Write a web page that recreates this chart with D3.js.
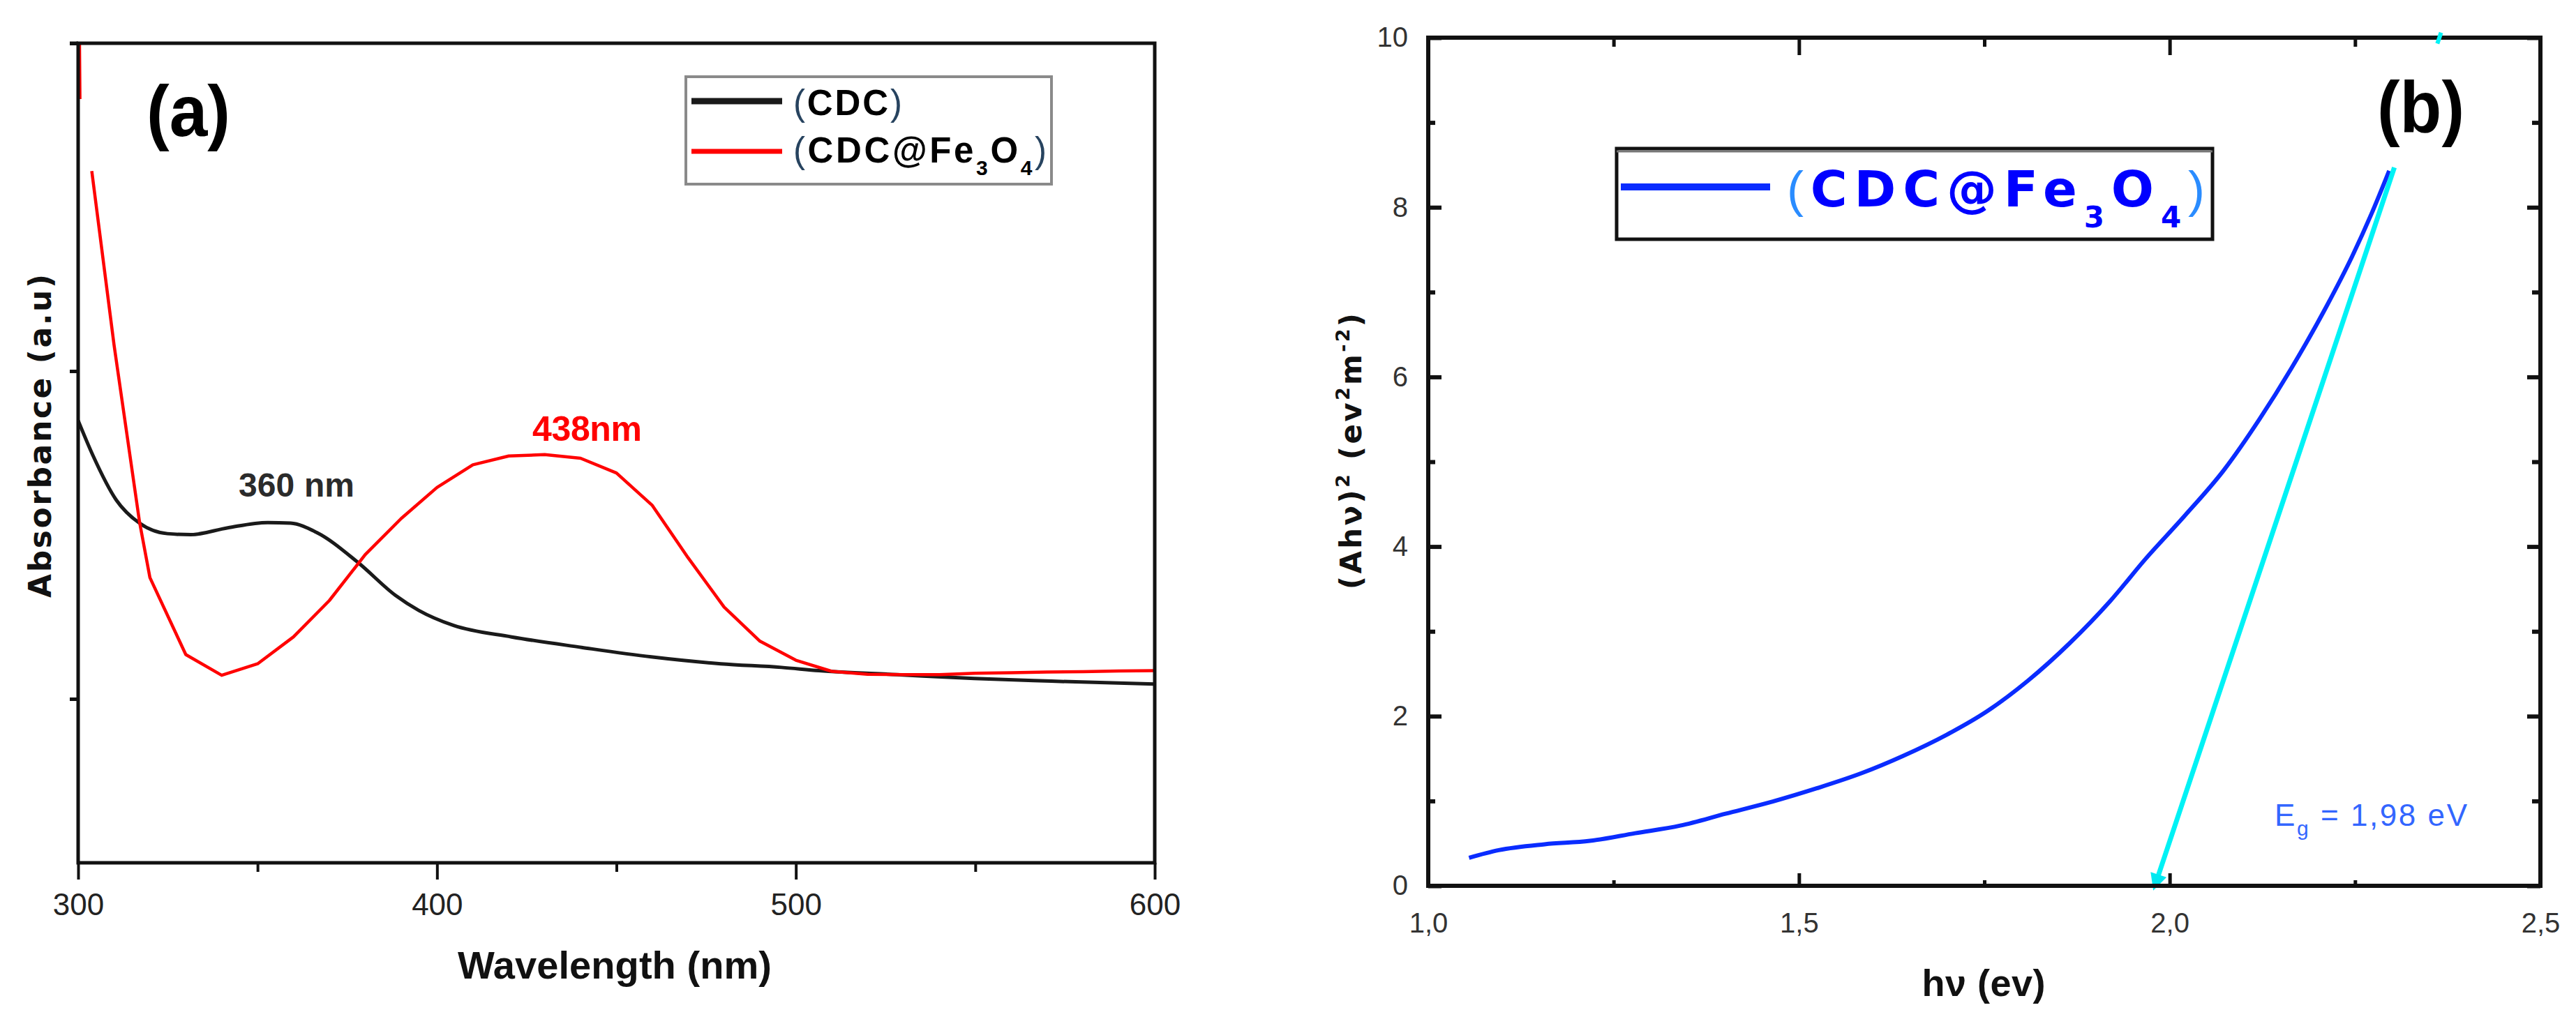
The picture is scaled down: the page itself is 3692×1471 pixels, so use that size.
<!DOCTYPE html>
<html><head><meta charset="utf-8">
<script src="https://cdn.jsdelivr.net/npm/d3@7"></script>
<style>body{margin:0;background:#fff}</style>
</head><body>
<svg id="c" width="3692" height="1471" xmlns="http://www.w3.org/2000/svg"></svg>
<script>
// ---------------- DATA ----------------
// Panel (a) UV-Vis absorbance
const cdcWavelength = [300, 304.1, 310.6, 317.1, 324.9, 331.4, 341.7, 352.8, 359.2, 366.4, 378.0, 388.4, 394.9, 404.6, 420.8, 440.3, 459.7, 479.1, 496.0, 506.5, 528.1, 549.7, 571.2, 600];
const cdcAbs        = [1.349, 1.243, 1.107, 1.036, 1.004, 1.001, 1.022, 1.038, 1.036, 1.008, 0.916, 0.816, 0.770, 0.724, 0.689, 0.657, 0.628, 0.607, 0.596, 0.586, 0.574, 0.562, 0.554, 0.545];
const feWavelength  = [300.3, 300.5, null, 303.8, 310, 317.1, 320, 330, 340, 350, 360, 370, 380, 390, 400, 410, 420, 430, 440, 450, 460, 470, 480, 490, 500, 510, 520, 530, 540, 550, 560, 570, 580, 590, 600];
const feAbs         = [2.60, 2.33, null, 2.11, 1.58, 1.04, 0.87, 0.635, 0.572, 0.607, 0.689, 0.80, 0.94, 1.05, 1.145, 1.214, 1.241, 1.245, 1.234, 1.189, 1.090, 0.93, 0.78, 0.676, 0.618, 0.584, 0.575, 0.574, 0.574, 0.578, 0.580, 0.582, 0.583, 0.585, 0.586];
const xTicksA       = [300, 400, 500, 600];
const xMinorTicksA  = [350, 450, 550];
const yTicksA       = [0.5, 1.5, 2.5];

// Panel (b) Tauc plot
const taucEnergy = [1.055, 1.095, 1.157, 1.218, 1.279, 1.340, 1.401, 1.463, 1.524, 1.585, 1.640, 1.699, 1.754, 1.809, 1.865, 1.920, 1.968, 2.020, 2.073, 2.121, 2.164, 2.212, 2.246, 2.272, 2.296];
const taucValue  = [0.33, 0.42, 0.49, 0.53, 0.62, 0.71, 0.85, 0.99, 1.15, 1.33, 1.53, 1.78, 2.06, 2.42, 2.86, 3.36, 3.86, 4.36, 4.90, 5.50, 6.10, 6.84, 7.42, 7.92, 8.43];
const tangentEnergy = [2.303, 1.98];
const tangentValue  = [8.47, 0];
const tangentTopEnergy = [2.361, 2.366];
const tangentTopValue  = [9.93, 10.06];
const xTicksB       = [1.0, 1.5, 2.0, 2.5];
const xTickLabelsB  = ["1,0", "1,5", "2,0", "2,5"];
const xMinorTicksB  = [1.25, 1.75, 2.25];
const yTicksB       = [0, 2, 4, 6, 8, 10];
const yMinorTicksB  = [1, 3, 5, 7, 9];
const bandGap = "1,98";

// ---------------- DRAW ----------------
const svg = d3.select("#c");
svg.append("rect").attr("width", 3692).attr("height", 1471).attr("fill", "#fff");
const SANS = "'Liberation Sans', Arial, sans-serif";
const WIDE = "'DejaVu Sans', Verdana, sans-serif";

function styleAxis(g, sw, fs, col) {
  g.select(".domain").remove();
  g.attr("font-family", SANS).attr("font-size", fs);
  g.selectAll(".tick line").attr("stroke", "#111").attr("stroke-width", sw);
  g.selectAll(".tick text").attr("fill", col || "#222");
}

// ===== Panel (a) =====
const xA = d3.scaleLinear().domain([300, 600]).range([112, 1655]);
const yA = d3.scaleLinear().domain([0, 2.5]).range([1237, 62]);
const gA = svg.append("g");
gA.append("clipPath").attr("id", "clipA").append("rect")
  .attr("x", xA(300)).attr("y", yA(2.5)).attr("width", xA(600) - xA(300)).attr("height", yA(0) - yA(2.5));

const cdcData = cdcWavelength.map((x, i) => ({x, y: cdcAbs[i]}));
const feData = feWavelength.map((x, i) => ({x, y: feAbs[i]}));

gA.append("path").datum(cdcData).attr("clip-path", "url(#clipA)")
  .attr("d", d3.line().x(d => xA(d.x)).y(d => yA(d.y)).curve(d3.curveMonotoneX))
  .attr("fill", "none").attr("stroke", "#1a1a1a").attr("stroke-width", 5);
gA.append("path").datum(feData).attr("clip-path", "url(#clipA)")
  .attr("d", d3.line().defined(d => d.x != null && d.y != null).x(d => xA(d.x)).y(d => yA(d.y)))
  .attr("fill", "none").attr("stroke", "#ff0000").attr("stroke-width", 4.5).attr("stroke-linejoin", "round");

// axes a
gA.append("g").attr("transform", `translate(0,${yA(0)})`)
  .call(d3.axisBottom(xA).tickValues(xTicksA).tickSize(24).tickPadding(20).tickFormat(d3.format("d")))
  .call(g => styleAxis(g, 4, 44, "#222"));
gA.append("g").attr("transform", `translate(0,${yA(0)})`)
  .call(d3.axisBottom(xA).tickValues(xMinorTicksA).tickSize(13).tickFormat(""))
  .call(g => styleAxis(g, 4, 44));
gA.append("g").attr("transform", `translate(${xA(300)},0)`)
  .call(d3.axisLeft(yA).tickValues(yTicksA).tickSize(12).tickFormat(""))
  .call(g => styleAxis(g, 5, 44));
// frame a
gA.append("rect").attr("x", xA(300)).attr("y", yA(2.5)).attr("width", xA(600) - xA(300)).attr("height", yA(0) - yA(2.5))
  .attr("fill", "none").attr("stroke", "#111").attr("stroke-width", 5);
gA.append("line").attr("x1", 100).attr("x2", xA(300)).attr("y1", yA(2.5)).attr("y2", yA(2.5)).attr("stroke", "#111").attr("stroke-width", 5);

// labels a
gA.append("text").attr("x", 210).attr("y", 195).attr("font-family", SANS).attr("font-weight", "bold")
  .attr("font-size", 104).attr("textLength", 120).attr("lengthAdjust", "spacingAndGlyphs").attr("fill", "#000").text("(a)");
gA.append("text").attr("x", 342).attr("y", 712).attr("font-family", SANS).attr("font-weight", "bold")
  .attr("font-size", 48).attr("textLength", 166).attr("fill", "#2b2b2b").text("360 nm");
gA.append("text").attr("x", 763).attr("y", 632).attr("font-family", SANS).attr("font-weight", "bold")
  .attr("font-size", 50).attr("textLength", 157).attr("fill", "#ff0000").text("438nm");
gA.append("text").attr("x", 881).attr("y", 1403).attr("text-anchor", "middle").attr("font-family", SANS)
  .attr("font-weight", "bold").attr("font-size", 56).attr("textLength", 450).attr("fill", "#111").text("Wavelength (nm)");
gA.append("text").attr("transform", "translate(57,625) rotate(-90)").attr("dy", "0.36em").attr("text-anchor", "middle")
  .attr("font-family", WIDE).attr("font-weight", "bold").attr("font-size", 44).attr("textLength", 464)
  .attr("fill", "#111").text("Absorbance (a.u)");

// formula helper (subscripts via dy, no empty tspans)
function formula(sel, x, y, fam, fs, subFs, subShift, letterW, letterC, parenFam, parenC, len) {
  const t = sel.append("text").attr("x", x).attr("y", y).attr("font-family", fam).attr("font-size", fs);
  if (len) t.attr("textLength", len).attr("lengthAdjust", "spacing");
  let pending = 0;
  const add = (s) => {
    const ts = t.append("tspan").text(s);
    if (pending) { ts.attr("dy", pending); pending = 0; }
    return ts;
  };
  return {
    paren(s) { add(s).attr("fill", parenC).attr("font-weight", "normal").attr("font-family", parenFam); return this; },
    txt(s) { add(s).attr("fill", letterC).attr("font-weight", letterW); return this; },
    sub(s) {
      const ts = add(s).attr("fill", letterC).attr("font-weight", letterW).attr("font-size", subFs);
      ts.attr("dy", (+ts.attr("dy") || 0) + subShift);
      pending = -subShift;
      return this;
    }
  };
}

// legend a
const legA = gA.append("g");
legA.append("rect").attr("x", 983).attr("y", 110).attr("width", 524).attr("height", 154)
  .attr("fill", "#fff").attr("stroke", "#8a8a8a").attr("stroke-width", 4);
legA.append("line").attr("x1", 991).attr("x2", 1121).attr("y1", 145).attr("y2", 145).attr("stroke", "#1a1a1a").attr("stroke-width", 9);
legA.append("line").attr("x1", 991).attr("x2", 1121).attr("y1", 217).attr("y2", 217).attr("stroke", "#ff0000").attr("stroke-width", 7);
formula(legA, 1137, 165, SANS, 51, 30, 18, "bold", "#000", SANS, "#27435f", 156).paren("(").txt("CDC").paren(")");
formula(legA, 1137, 233, SANS, 51, 30, 18, "bold", "#000", SANS, "#27435f", 363).paren("(").txt("CDC@Fe").sub("3").txt("O").sub("4").paren(")");

// ===== Panel (b) =====
const xB = d3.scaleLinear().domain([1.0, 2.5]).range([2047, 3641]);
const yB = d3.scaleLinear().domain([0, 10]).range([1270, 54]);
const gB = svg.append("g");
gB.append("clipPath").attr("id", "clipB").append("rect")
  .attr("x", xB(1)).attr("y", yB(10.2)).attr("width", xB(2.5) - xB(1)).attr("height", yB(0) - yB(10.2) + 12);

const taucData = taucEnergy.map((x, i) => ({x, y: taucValue[i]}));
const tanData = tangentEnergy.map((x, i) => ({x, y: tangentValue[i]}));
const tanTop = tangentTopEnergy.map((x, i) => ({x, y: tangentTopValue[i]}));

const defs = svg.append("defs");
defs.append("marker").attr("id", "arrowC").attr("markerUnits", "userSpaceOnUse")
  .attr("viewBox", "0 0 10 10").attr("refX", 7).attr("refY", 5)
  .attr("markerWidth", 34).attr("markerHeight", 24).attr("orient", "auto")
  .append("path").attr("d", "M0,0 L10,5 L0,10 Z").attr("fill", "#00e8f0");

gB.append("path").datum(taucData).attr("clip-path", "url(#clipB)")
  .attr("d", d3.line().x(d => xB(d.x)).y(d => yB(d.y)).curve(d3.curveMonotoneX))
  .attr("fill", "none").attr("stroke", "#0a2cff").attr("stroke-width", 6);
gB.append("path").datum(tanData)
  .attr("d", d3.line().x(d => xB(d.x)).y(d => yB(d.y))).attr("fill", "none")
  .attr("stroke", "#00f2f5").attr("stroke-width", 7).attr("marker-end", "url(#arrowC)");

// axes b
gB.append("g").attr("transform", `translate(0,${yB(0)})`)
  .call(d3.axisBottom(xB).tickValues(xTicksB).tickSize(-18).tickPadding(39).tickFormat((d, i) => xTickLabelsB[i]))
  .call(g => styleAxis(g, 5, 40, "#333"));
gB.append("g").attr("transform", `translate(0,${yB(0)})`)
  .call(d3.axisBottom(xB).tickValues(xMinorTicksB).tickSize(-8).tickFormat(""))
  .call(g => styleAxis(g, 5, 40));
gB.append("g").attr("transform", `translate(0,${yB(10)})`)
  .call(d3.axisTop(xB).tickValues(xTicksB).tickSize(-25).tickFormat(""))
  .call(g => styleAxis(g, 5, 40));
gB.append("g").attr("transform", `translate(0,${yB(10)})`)
  .call(d3.axisTop(xB).tickValues(xMinorTicksB).tickSize(-13).tickFormat(""))
  .call(g => styleAxis(g, 5, 40));
gB.append("g").attr("transform", `translate(${xB(1)},0)`)
  .call(d3.axisLeft(yB).tickValues(yTicksB).tickSize(-19).tickPadding(29).tickFormat(d3.format("d")))
  .call(g => styleAxis(g, 6, 40, "#333"));
gB.append("g").attr("transform", `translate(${xB(1)},0)`)
  .call(d3.axisLeft(yB).tickValues(yMinorTicksB).tickSize(-10).tickFormat(""))
  .call(g => styleAxis(g, 6, 40));
gB.append("g").attr("transform", `translate(${xB(2.5)},0)`)
  .call(d3.axisRight(yB).tickValues(yTicksB).tickSize(-19).tickFormat(""))
  .call(g => styleAxis(g, 6, 40));
gB.append("g").attr("transform", `translate(${xB(2.5)},0)`)
  .call(d3.axisRight(yB).tickValues(yMinorTicksB).tickSize(-12).tickFormat(""))
  .call(g => styleAxis(g, 6, 40));
// frame b
gB.append("rect").attr("x", xB(1)).attr("y", yB(10)).attr("width", xB(2.5) - xB(1)).attr("height", yB(0) - yB(10))
  .attr("fill", "none").attr("stroke", "#111").attr("stroke-width", 6);
// small cyan mark on top border (continuation of tangent)
gB.append("path").datum(tanTop)
  .attr("d", d3.line().x(d => xB(d.x)).y(d => yB(d.y))).attr("fill", "none")
  .attr("stroke", "#00f2f5").attr("stroke-width", 6);

// labels b
gB.append("text").attr("x", 3407).attr("y", 189).attr("font-family", SANS).attr("font-weight", "bold")
  .attr("font-size", 104).attr("textLength", 125).attr("lengthAdjust", "spacingAndGlyphs").attr("fill", "#000").text("(b)");
gB.append("text").attr("x", 2843).attr("y", 1428).attr("text-anchor", "middle").attr("font-family", SANS)
  .attr("font-weight", "bold").attr("font-size", 54).attr("textLength", 177).attr("fill", "#111").text("h\u03BD (ev)");

const yl = gB.append("text").attr("transform", "translate(1936,647) rotate(-90)").attr("dy", "0.36em")
  .attr("text-anchor", "middle").attr("font-family", WIDE).attr("font-weight", "bold").attr("font-size", 42)
  .attr("textLength", 396).attr("fill", "#111");
yl.append("tspan").text("(Ah\u03BD)");
yl.append("tspan").attr("font-size", 27).attr("dy", -17).text("2");
yl.append("tspan").attr("dy", 17).text(" (ev");
yl.append("tspan").attr("font-size", 27).attr("dy", -17).text("2");
yl.append("tspan").attr("dy", 17).text("m");
yl.append("tspan").attr("font-size", 27).attr("dy", -17).text("-2");
yl.append("tspan").attr("dy", 17).text(")");

// Eg annotation
const eg = gB.append("text").attr("x", 3260).attr("y", 1184).attr("font-family", SANS).attr("font-size", 44)
  .attr("textLength", 276).attr("fill", "#3366ff");
eg.append("tspan").text("E");
eg.append("tspan").attr("font-size", 30).attr("dy", 14).text("g");
eg.append("tspan").attr("dy", -14).text(" = " + bandGap + " eV");

// legend b
const legB = gB.append("g");
legB.append("rect").attr("x", 2317).attr("y", 213).attr("width", 854).attr("height", 130)
  .attr("fill", "#fff").attr("stroke", "#111").attr("stroke-width", 5);
legB.append("line").attr("x1", 2317).attr("x2", 3171).attr("y1", 217).attr("y2", 217).attr("stroke", "#777").attr("stroke-width", 3);
legB.append("line").attr("x1", 2323).attr("x2", 2537).attr("y1", 268).attr("y2", 268).attr("stroke", "#0a2cff").attr("stroke-width", 10);
formula(legB, 2561, 296, WIDE, 72, 42, 30, "bold", "#0000ff", SANS, "#2a8cff", 599).paren("(").txt("CDC@Fe").sub("3").txt("O").sub("4").paren(")");
</script>
</body></html>
